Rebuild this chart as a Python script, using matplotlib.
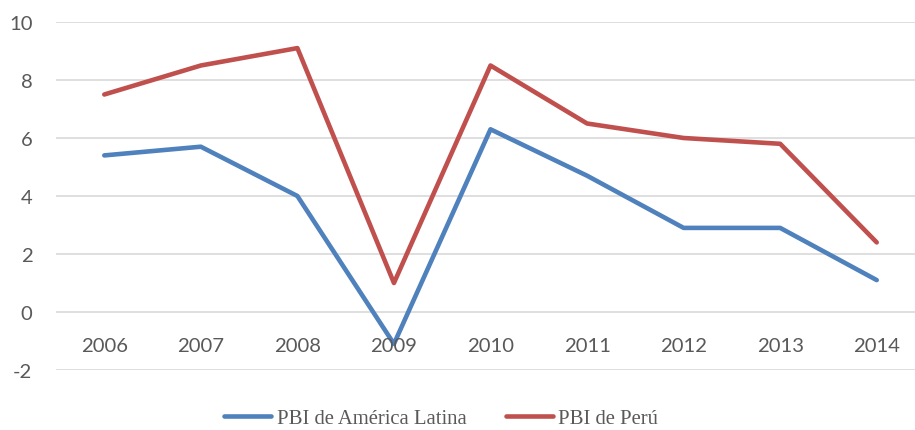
import matplotlib
matplotlib.use("Agg")
import matplotlib.pyplot as plt

years = ["2006", "2007", "2008", "2009", "2010", "2011", "2012", "2013", "2014"]
latam = [5.4, 5.7, 4.0, -1.1, 6.3, 4.7, 2.9, 2.9, 1.1]
peru = [7.5, 8.5, 9.1, 1.0, 8.5, 6.5, 6.0, 5.8, 2.4]
yticks = [-2, 0, 2, 4, 6, 8, 10]

W, H = 915, 431
fig = plt.figure(figsize=(W / 100, H / 100), dpi=100)
left, right = 56, 925
top, bottom = 23, 371
ax = fig.add_axes([left / W, 1 - bottom / H, (right - left) / W, (bottom - top) / H])

tick_color = "#595959"
x = list(range(len(years)))
ax.plot(x, latam, color="#4F81BD", lw=3.3, solid_capstyle="round", label="PBI de América Latina", zorder=3)
ax.plot(x, peru, color="#C0504D", lw=3.3, solid_capstyle="round", label="PBI de Perú", zorder=3)

ax.set_xlim(-0.5, len(years) - 0.5)
ax.set_ylim(-2, 10)
ax.set_yticks(yticks)
ax.set_yticklabels([str(v) for v in yticks], fontfamily="Lato", fontsize=14.6, color=tick_color)
ax.tick_params(axis="y", length=0, pad=17)
ax.set_xticks([])
for s in ax.spines.values():
    s.set_visible(False)
ax.grid(axis="y", color="#d9d9d9", lw=1.2, zorder=0)
ax.set_axisbelow(True)

for i, lab in enumerate(years):
    ax.annotate(lab, xy=(i, 0), xytext=(0, -28), textcoords="offset points",
                ha="center", va="baseline", fontfamily="Lato", fontsize=14.6, color=tick_color)

leg = fig.legend(loc="center", bbox_to_anchor=(441 / W, 1 - 419 / H), ncol=2, frameon=False,
                 prop={"family": "Liberation Serif", "size": 14.9},
                 handlelength=2.3, handletextpad=0.25, columnspacing=1.9)
for t in leg.get_texts():
    t.set_color(tick_color)

fig.savefig("out.png", dpi=100)
